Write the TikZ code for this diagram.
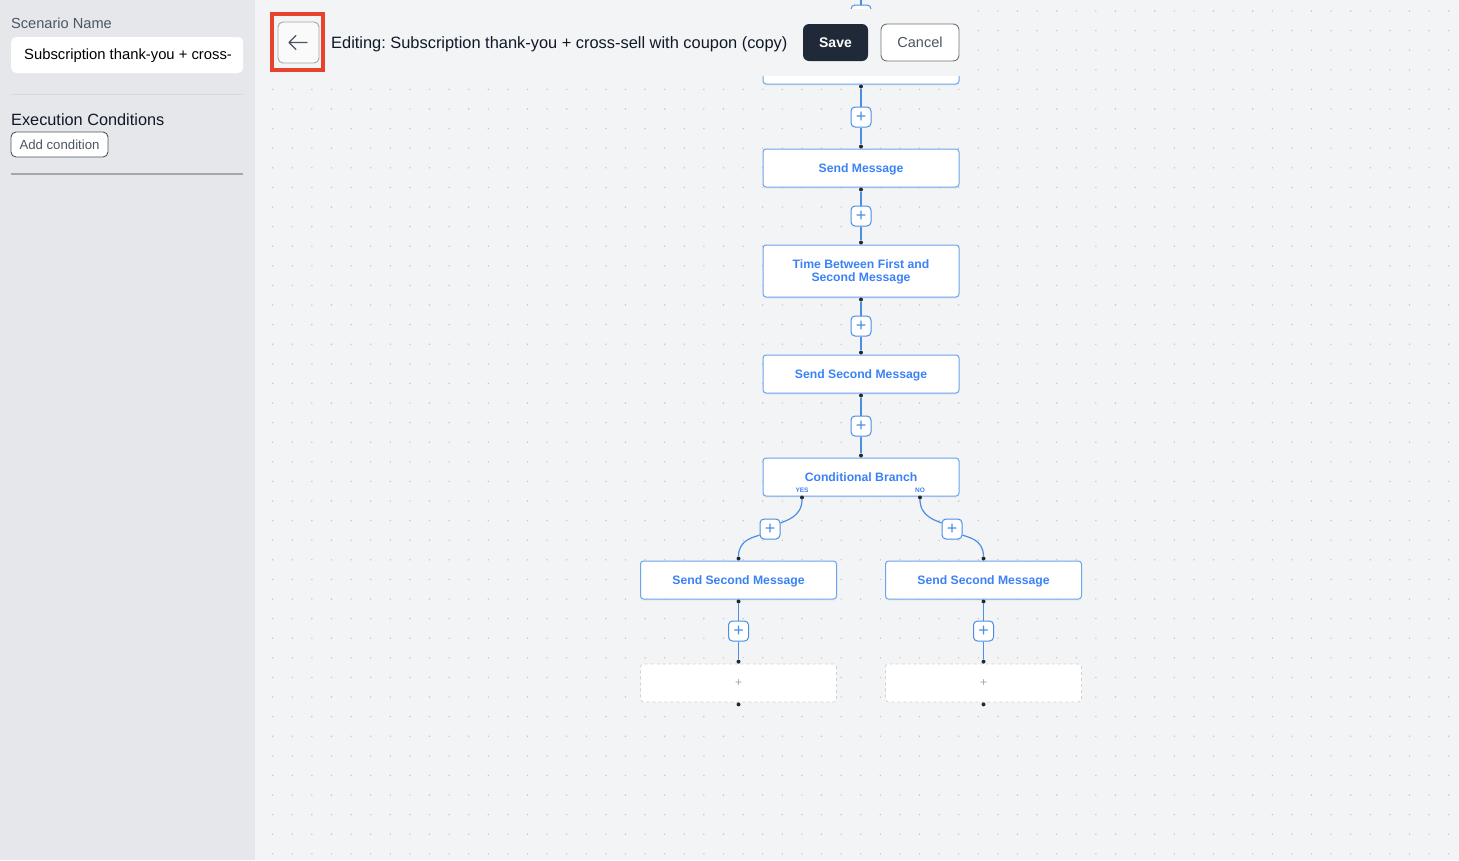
\documentclass[tikz,border=0pt]{standalone}
\usepackage{fontspec}
\setmainfont{Liberation Sans}
\frenchspacing
\usetikzlibrary{shadows}
\pgfdeclarelayer{background}
\pgfsetlayers{background,main}

\definecolor{sidebg}{HTML}{E5E7EB}
\definecolor{canvasbg}{HTML}{F3F4F6}
\definecolor{griddot}{HTML}{C3C6CC}
\definecolor{stepline}{HTML}{6AA4EE}
\definecolor{steptext}{HTML}{3B82F6}
\definecolor{linkblue}{HTML}{4A8FE4}
\definecolor{pindot}{HTML}{1F2937}
\definecolor{darkbtn}{HTML}{1F2937}
\definecolor{graytext}{HTML}{4B5563}
\definecolor{inktext}{HTML}{111827}
\definecolor{hilite}{HTML}{E8412C}

\tikzset{
  stepbox/.style={draw=stepline, fill=white, line width=1pt, rounded corners=3pt,
    minimum width=196pt, minimum height=38pt, inner sep=0pt, align=center,
    text=steptext, font=\fontsize{12.2}{13}\selectfont\bfseries, text depth=0pt,
    drop shadow={opacity=0.06, shadow xshift=0pt, shadow yshift=-2pt}},
  holderbox/.style={draw=black!18, dashed, fill=white, line width=0.8pt, rounded corners=3pt,
    minimum width=196pt, minimum height=38pt, inner sep=0pt,
    text=black!35, font=\fontsize{12}{12}\selectfont},
  plusbtn/.style={draw=linkblue, fill=white, line width=1pt, rounded corners=4pt,
    minimum size=20pt, inner sep=0pt, text=linkblue, font=\fontsize{18}{18}\selectfont},
  pin/.style={circle, fill=pindot, minimum size=4pt, inner sep=0pt},
  link/.style={draw=linkblue, line width=1.2pt},
  yesno/.style={inner sep=0pt, text=steptext, font=\fontsize{6.5}{7}\selectfont\bfseries},
  uitext/.style={anchor=west, inner sep=0pt},
}

\begin{document}
\begin{tikzpicture}[x=1pt,y=-1pt]
\useasboundingbox (0,0) rectangle (1459,860);

\begin{pgfonlayer}{background}
% Drawing sidebar and canvas
\fill[sidebg] (0,0) rectangle (255,860);
\fill[canvasbg] (255,0) rectangle (1459,860);

% Drawing dot grid
\foreach \i in {0,...,60}{%
  \foreach \j in {0,...,43}{%
    \fill[griddot] ({272.7+19.6*\i},{11+19.6*\j}) circle (0.8pt);
  }}
\end{pgfonlayer}

% Marking sidebar
\node[uitext, text=graytext, font=\fontsize{14.6}{16}\selectfont] (scnlabel) at (11,23) {Scenario Name};
\node[fill=white, rounded corners=5pt, minimum width=232pt, minimum height=36pt, anchor=west] (scninput) at (11,55) {};
\node[uitext, text=black, font=\fontsize{14.8}{16}\selectfont] (scntext) at ([xshift=13pt,yshift=-1pt]scninput.west) {Subscription thank-you + cross-};
\draw[black!15, line width=1pt] (11,94) -- (243,94);
\node[uitext, text=inktext, font=\fontsize{16.3}{18}\selectfont] (execlabel) at (11,120) {Execution Conditions};
\node[draw=graytext, fill=white, line width=0.9pt, rounded corners=5pt, minimum width=97pt, minimum height=25pt,
  inner sep=0pt, text=graytext, font=\fontsize{13.2}{14}\selectfont] (addcond) at (59.5,144.5) {Add condition};
\draw[black!35, line width=1.2pt] (11,174) -- (243,174);

% Marking flow steps
\coordinate (topin) at (861,0);
\node[plusbtn] (p0) at (861,15) {+};
\node[stepbox] (first) at (861,65) {};
\node[pin] (first-o) at ([yshift=-2pt]first.south) {};

\node[plusbtn] (p1) at (861,117) {+};
\node[stepbox] (sendmsg) at (861,168) {Send Message};
\node[pin] (sendmsg-i) at ([yshift=2pt]sendmsg.north) {};
\node[pin] (sendmsg-o) at ([yshift=-2pt]sendmsg.south) {};

\node[plusbtn] (p2) at (861,216) {+};
\node[stepbox, minimum height=52pt] (timegap) at (861,271) {Time Between First and\\Second Message};
\node[pin] (timegap-i) at ([yshift=2pt]timegap.north) {};
\node[pin] (timegap-o) at ([yshift=-2pt]timegap.south) {};

\node[plusbtn] (p3) at (861,326) {+};
\node[stepbox] (second) at (861,374) {Send Second Message};
\node[pin] (second-i) at ([yshift=2pt]second.north) {};
\node[pin] (second-o) at ([yshift=-2pt]second.south) {};

\node[plusbtn] (p4) at (861,426) {+};
\node[stepbox] (branch) at (861,477) {Conditional Branch};
\node[pin] (branch-i) at ([yshift=2pt]branch.north) {};
\node[pin] (yes-o) at ([xshift=-59pt,yshift=-1pt]branch.south) {};
\node[pin] (no-o) at ([xshift=59pt,yshift=-1pt]branch.south) {};
\node[yesno] (yeslbl) at ([yshift=7pt]yes-o) {YES};
\node[yesno] (nolbl) at ([yshift=7pt]no-o) {NO};

% Marking branch steps
\node[plusbtn] (pyes) at (770,529) {+};
\node[plusbtn] (pno) at (952,529) {+};
\node[stepbox] (leftmsg) at (738.5,580) {Send Second Message};
\node[stepbox] (rightmsg) at (983.5,580) {Send Second Message};
\node[pin] (leftmsg-i) at ([yshift=2pt]leftmsg.north) {};
\node[pin] (rightmsg-i) at ([yshift=2pt]rightmsg.north) {};
\node[pin] (leftmsg-o) at ([yshift=-2pt]leftmsg.south) {};
\node[pin] (rightmsg-o) at ([yshift=-2pt]rightmsg.south) {};

\node[plusbtn] (pleft) at (738.5,631) {+};
\node[plusbtn] (pright) at (983.5,631) {+};
\node[holderbox] (lefthold) at (738.5,683) {+};
\node[holderbox] (righthold) at (983.5,683) {+};
\node[pin] (lefthold-i) at ([yshift=2pt]lefthold.north) {};
\node[pin] (righthold-i) at ([yshift=2pt]righthold.north) {};
\node[pin] (lefthold-o) at ([yshift=-2pt]lefthold.south) {};
\node[pin] (righthold-o) at ([yshift=-2pt]righthold.south) {};

\begin{pgfonlayer}{background}
% Drawing links
\draw[link] (topin) -- (p0) -- (first);
\draw[link] (first-o) -- (p1) -- (sendmsg-i);
\draw[link] (sendmsg-o) -- (p2) -- (timegap-i);
\draw[link] (timegap-o) -- (p3) -- (second-i);
\draw[link] (second-o) -- (p4) -- (branch-i);
\draw[link] (yes-o) .. controls +(0,20) and +(14,-8) .. (pyes) .. controls +(-14,8) and +(0,-20) .. (leftmsg-i);
\draw[link] (no-o) .. controls +(0,20) and +(-14,-8) .. (pno) .. controls +(14,8) and +(0,-20) .. (rightmsg-i);
\draw[link] (leftmsg-o) -- (pleft) -- (lefthold-i);
\draw[link] (rightmsg-o) -- (pright) -- (righthold-i);
\end{pgfonlayer}

% Drawing header bar
\fill[canvasbg] (255,9) rectangle (970,76);
\node[draw=black!35, fill=gray!4, line width=0.9pt, rounded corners=5pt, minimum size=41pt, inner sep=0pt] (back) at (298.5,42.5) {};
\draw[graytext, line width=1.4pt, line cap=round, line join=round]
  ([xshift=8.5pt]back.center) -- ([xshift=-9.5pt]back.center)
  ([xshift=-2.5pt,yshift=7pt]back.center) -- ([xshift=-9.5pt]back.center) -- ([xshift=-2.5pt,yshift=-7pt]back.center);
\draw[hilite, line width=4pt] (272,14) rectangle (323,70);
\node[uitext, text=inktext, font=\fontsize{16.4}{18}\selectfont] (title) at (331,44) {Editing: Subscription thank-you + cross-sell with coupon (copy)};
\node[fill=darkbtn, rounded corners=6pt, minimum width=65pt, minimum height=37pt, inner sep=0pt,
  text=white, font=\fontsize{14}{16}\selectfont\bfseries] (save) at (835.5,42.5) {Save};
\node[draw=black!55, fill=white, line width=0.9pt, rounded corners=6pt, minimum width=78pt, minimum height=37pt, inner sep=0pt,
  text=graytext, font=\fontsize{14.5}{16}\selectfont] (cancel) at (920,42.5) {Cancel};
\end{tikzpicture}
\end{document}
